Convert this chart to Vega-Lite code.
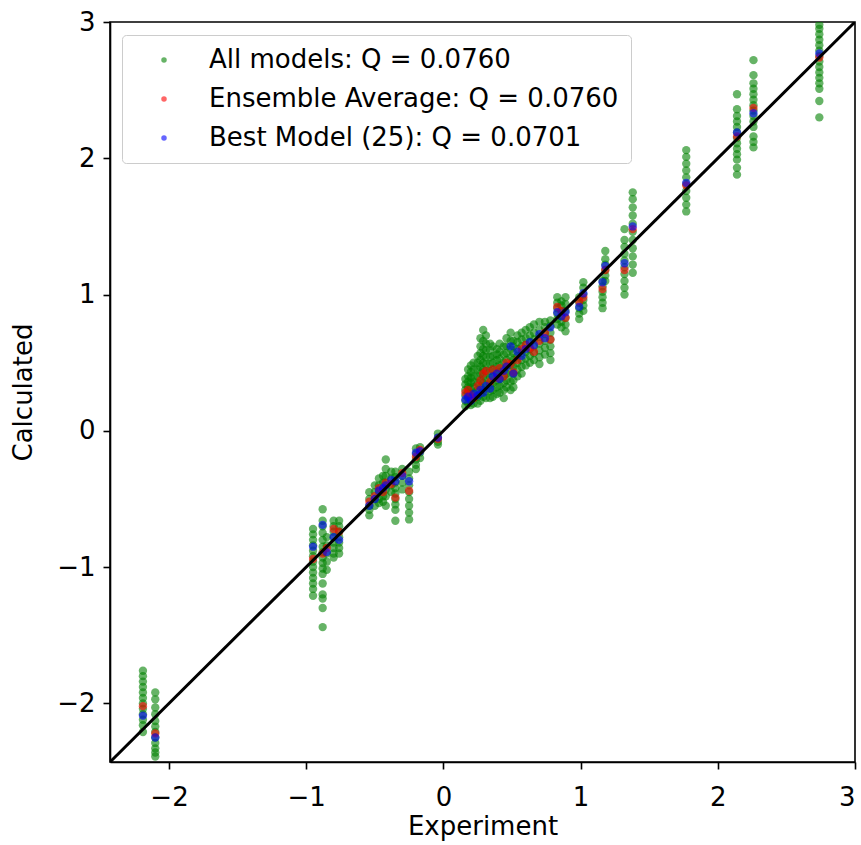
{
  "$schema": "https://vega.github.io/schema/vega-lite/v6.json",
  "width": 745,
  "height": 740,
  "autosize": {"type": "none"},
  "padding": {"left": 110, "top": 22, "right": 6, "bottom": 83},
  "background": "white",
  "datasets": {
    "all": [
      {"x":-2.19,"y":-1.76},{"x":-2.19,"y":-1.80},{"x":-2.19,"y":-1.84},{"x":-2.19,"y":-1.88},{"x":-2.19,"y":-1.92},{"x":-2.19,"y":-1.96},{"x":-2.19,"y":-2.00},{"x":-2.19,"y":-2.04},{"x":-2.19,"y":-2.08},{"x":-2.19,"y":-2.12},{"x":-2.19,"y":-2.16},{"x":-2.19,"y":-2.21},
      {"x":-2.10,"y":-1.92},{"x":-2.10,"y":-1.97},{"x":-2.10,"y":-2.03},{"x":-2.10,"y":-2.08},{"x":-2.10,"y":-2.13},{"x":-2.10,"y":-2.17},{"x":-2.10,"y":-2.21},{"x":-2.10,"y":-2.25},{"x":-2.10,"y":-2.29},{"x":-2.10,"y":-2.33},{"x":-2.10,"y":-2.36},{"x":-2.10,"y":-2.39},
      {"x":-0.95,"y":-0.72},{"x":-0.95,"y":-0.76},{"x":-0.95,"y":-0.80},{"x":-0.95,"y":-0.84},{"x":-0.95,"y":-0.88},{"x":-0.95,"y":-0.92},{"x":-0.95,"y":-0.96},{"x":-0.95,"y":-1.00},{"x":-0.95,"y":-1.04},{"x":-0.95,"y":-1.08},{"x":-0.95,"y":-1.12},{"x":-0.95,"y":-1.16},{"x":-0.95,"y":-1.21},
      {"x":-0.88,"y":-0.575},{"x":-0.88,"y":-0.66},{"x":-0.88,"y":-0.70},{"x":-0.88,"y":-0.75},{"x":-0.88,"y":-0.80},{"x":-0.88,"y":-0.85},{"x":-0.88,"y":-0.89},{"x":-0.88,"y":-0.93},{"x":-0.88,"y":-0.97},{"x":-0.88,"y":-1.01},{"x":-0.88,"y":-1.05},{"x":-0.88,"y":-1.12},{"x":-0.88,"y":-1.20},{"x":-0.88,"y":-1.23},{"x":-0.88,"y":-1.30},{"x":-0.88,"y":-1.44},
      {"x":-0.85,"y":-0.78},{"x":-0.85,"y":-0.84},{"x":-0.85,"y":-0.90},{"x":-0.85,"y":-0.96},{"x":-0.85,"y":-1.02},
      {"x":-0.80,"y":-0.66},{"x":-0.80,"y":-0.70},{"x":-0.80,"y":-0.74},{"x":-0.80,"y":-0.78},{"x":-0.80,"y":-0.82},{"x":-0.80,"y":-0.86},{"x":-0.80,"y":-0.90},{"x":-0.80,"y":-0.93},
      {"x":-0.76,"y":-0.66},{"x":-0.76,"y":-0.70},{"x":-0.76,"y":-0.74},{"x":-0.76,"y":-0.78},{"x":-0.76,"y":-0.82},{"x":-0.76,"y":-0.86},{"x":-0.76,"y":-0.90},
      {"x":-0.54,"y":-0.45},{"x":-0.54,"y":-0.50},{"x":-0.54,"y":-0.55},{"x":-0.54,"y":-0.58},{"x":-0.54,"y":-0.62},
      {"x":-0.50,"y":-0.40},{"x":-0.50,"y":-0.45},{"x":-0.50,"y":-0.50},{"x":-0.50,"y":-0.55},
      {"x":-0.47,"y":-0.35},{"x":-0.47,"y":-0.40},{"x":-0.47,"y":-0.45},{"x":-0.47,"y":-0.50},{"x":-0.47,"y":-0.53},
      {"x":-0.44,"y":-0.33},{"x":-0.44,"y":-0.38},{"x":-0.44,"y":-0.43},{"x":-0.44,"y":-0.48},{"x":-0.44,"y":-0.52},
      {"x":-0.42,"y":-0.21},{"x":-0.42,"y":-0.28},{"x":-0.42,"y":-0.33},{"x":-0.42,"y":-0.38},{"x":-0.42,"y":-0.43},{"x":-0.42,"y":-0.48},{"x":-0.42,"y":-0.55},
      {"x":-0.38,"y":-0.30},{"x":-0.38,"y":-0.35},{"x":-0.38,"y":-0.40},{"x":-0.38,"y":-0.45},
      {"x":-0.35,"y":-0.30},{"x":-0.35,"y":-0.34},{"x":-0.35,"y":-0.38},{"x":-0.35,"y":-0.42},{"x":-0.35,"y":-0.46},{"x":-0.35,"y":-0.50},{"x":-0.35,"y":-0.54},{"x":-0.35,"y":-0.58},{"x":-0.35,"y":-0.66},
      {"x":-0.30,"y":-0.28},{"x":-0.30,"y":-0.33},{"x":-0.30,"y":-0.38},{"x":-0.30,"y":-0.43},
      {"x":-0.25,"y":-0.30},{"x":-0.25,"y":-0.35},{"x":-0.25,"y":-0.40},{"x":-0.25,"y":-0.45},{"x":-0.25,"y":-0.50},{"x":-0.25,"y":-0.55},{"x":-0.25,"y":-0.60},{"x":-0.25,"y":-0.65},
      {"x":-0.20,"y":-0.13},{"x":-0.20,"y":-0.17},{"x":-0.20,"y":-0.21},{"x":-0.20,"y":-0.25},{"x":-0.20,"y":-0.28},
      {"x":-0.17,"y":-0.12},{"x":-0.17,"y":-0.16},{"x":-0.17,"y":-0.20},
      {"x":-0.04,"y":-0.02},{"x":-0.04,"y":-0.05},{"x":-0.04,"y":-0.08},{"x":-0.04,"y":-0.10},
      {"x":0.16,"y":0.18},{"x":0.16,"y":0.22},{"x":0.16,"y":0.26},{"x":0.16,"y":0.30},{"x":0.16,"y":0.34},{"x":0.16,"y":0.38},
      {"x":0.18,"y":0.20},{"x":0.18,"y":0.24},{"x":0.18,"y":0.28},{"x":0.18,"y":0.32},{"x":0.18,"y":0.36},{"x":0.18,"y":0.40},{"x":0.18,"y":0.45},
      {"x":0.20,"y":0.19},{"x":0.20,"y":0.23},{"x":0.20,"y":0.27},{"x":0.20,"y":0.31},{"x":0.20,"y":0.35},{"x":0.20,"y":0.39},{"x":0.20,"y":0.43},{"x":0.20,"y":0.48},
      {"x":0.22,"y":0.20},{"x":0.22,"y":0.24},{"x":0.22,"y":0.28},{"x":0.22,"y":0.32},{"x":0.22,"y":0.36},{"x":0.22,"y":0.40},{"x":0.22,"y":0.45},{"x":0.22,"y":0.50},
      {"x":0.25,"y":0.20},{"x":0.25,"y":0.25},{"x":0.25,"y":0.30},{"x":0.25,"y":0.35},{"x":0.25,"y":0.40},{"x":0.25,"y":0.45},{"x":0.25,"y":0.50},{"x":0.25,"y":0.55},
      {"x":0.27,"y":0.22},{"x":0.27,"y":0.27},{"x":0.27,"y":0.32},{"x":0.27,"y":0.37},{"x":0.27,"y":0.42},{"x":0.27,"y":0.47},{"x":0.27,"y":0.52},{"x":0.27,"y":0.57},{"x":0.27,"y":0.62},{"x":0.27,"y":0.68},
      {"x":0.29,"y":0.25},{"x":0.29,"y":0.30},{"x":0.29,"y":0.35},{"x":0.29,"y":0.40},{"x":0.29,"y":0.45},{"x":0.29,"y":0.50},{"x":0.29,"y":0.55},{"x":0.29,"y":0.60},{"x":0.29,"y":0.66},{"x":0.29,"y":0.74},
      {"x":0.31,"y":0.24},{"x":0.31,"y":0.29},{"x":0.31,"y":0.34},{"x":0.31,"y":0.39},{"x":0.31,"y":0.44},{"x":0.31,"y":0.49},{"x":0.31,"y":0.54},{"x":0.31,"y":0.59},{"x":0.31,"y":0.64},{"x":0.31,"y":0.70},
      {"x":0.34,"y":0.24},{"x":0.34,"y":0.29},{"x":0.34,"y":0.34},{"x":0.34,"y":0.39},{"x":0.34,"y":0.44},{"x":0.34,"y":0.49},{"x":0.34,"y":0.54},{"x":0.34,"y":0.59},{"x":0.34,"y":0.64},
      {"x":0.36,"y":0.25},{"x":0.36,"y":0.30},{"x":0.36,"y":0.35},{"x":0.36,"y":0.40},{"x":0.36,"y":0.45},{"x":0.36,"y":0.50},{"x":0.36,"y":0.55},{"x":0.36,"y":0.62},
      {"x":0.39,"y":0.27},{"x":0.39,"y":0.32},{"x":0.39,"y":0.37},{"x":0.39,"y":0.42},{"x":0.39,"y":0.47},{"x":0.39,"y":0.52},{"x":0.39,"y":0.56},{"x":0.39,"y":0.60},
      {"x":0.41,"y":0.28},{"x":0.41,"y":0.33},{"x":0.41,"y":0.38},{"x":0.41,"y":0.43},{"x":0.41,"y":0.48},{"x":0.41,"y":0.53},{"x":0.41,"y":0.58},{"x":0.41,"y":0.64},
      {"x":0.44,"y":0.24},{"x":0.44,"y":0.30},{"x":0.44,"y":0.35},{"x":0.44,"y":0.40},{"x":0.44,"y":0.45},{"x":0.44,"y":0.50},{"x":0.44,"y":0.56},{"x":0.44,"y":0.62},
      {"x":0.46,"y":0.32},{"x":0.46,"y":0.37},{"x":0.46,"y":0.42},{"x":0.46,"y":0.47},{"x":0.46,"y":0.52},{"x":0.46,"y":0.57},{"x":0.46,"y":0.62},{"x":0.46,"y":0.68},
      {"x":0.49,"y":0.30},{"x":0.49,"y":0.36},{"x":0.49,"y":0.42},{"x":0.49,"y":0.48},{"x":0.49,"y":0.54},{"x":0.49,"y":0.60},{"x":0.49,"y":0.66},{"x":0.49,"y":0.72},
      {"x":0.51,"y":0.32},{"x":0.51,"y":0.37},{"x":0.51,"y":0.42},{"x":0.51,"y":0.47},{"x":0.51,"y":0.52},{"x":0.51,"y":0.57},{"x":0.51,"y":0.62},{"x":0.51,"y":0.66},
      {"x":0.54,"y":0.40},{"x":0.54,"y":0.45},{"x":0.54,"y":0.50},{"x":0.54,"y":0.55},{"x":0.54,"y":0.60},{"x":0.54,"y":0.65},{"x":0.54,"y":0.70},
      {"x":0.57,"y":0.42},{"x":0.57,"y":0.47},{"x":0.57,"y":0.52},{"x":0.57,"y":0.57},{"x":0.57,"y":0.62},{"x":0.57,"y":0.67},{"x":0.57,"y":0.72},
      {"x":0.60,"y":0.48},{"x":0.60,"y":0.53},{"x":0.60,"y":0.58},{"x":0.60,"y":0.63},{"x":0.60,"y":0.68},{"x":0.60,"y":0.74},
      {"x":0.63,"y":0.50},{"x":0.63,"y":0.55},{"x":0.63,"y":0.60},{"x":0.63,"y":0.65},{"x":0.63,"y":0.70},{"x":0.63,"y":0.76},
      {"x":0.66,"y":0.52},{"x":0.66,"y":0.57},{"x":0.66,"y":0.62},{"x":0.66,"y":0.67},{"x":0.66,"y":0.72},{"x":0.66,"y":0.78},
      {"x":0.70,"y":0.49},{"x":0.70,"y":0.54},{"x":0.70,"y":0.59},{"x":0.70,"y":0.64},{"x":0.70,"y":0.69},{"x":0.70,"y":0.74},{"x":0.70,"y":0.80},
      {"x":0.74,"y":0.56},{"x":0.74,"y":0.61},{"x":0.74,"y":0.66},{"x":0.74,"y":0.71},{"x":0.74,"y":0.76},{"x":0.74,"y":0.80},
      {"x":0.78,"y":0.52},{"x":0.78,"y":0.57},{"x":0.78,"y":0.62},{"x":0.78,"y":0.67},{"x":0.78,"y":0.72},{"x":0.78,"y":0.77},{"x":0.78,"y":0.81},
      {"x":0.83,"y":0.78},{"x":0.83,"y":0.82},{"x":0.83,"y":0.86},{"x":0.83,"y":0.90},{"x":0.83,"y":0.94},{"x":0.83,"y":0.98},
      {"x":0.86,"y":0.76},{"x":0.86,"y":0.80},{"x":0.86,"y":0.84},{"x":0.86,"y":0.88},{"x":0.86,"y":0.92},{"x":0.86,"y":0.95},
      {"x":0.89,"y":0.73},{"x":0.89,"y":0.78},{"x":0.89,"y":0.83},{"x":0.89,"y":0.88},{"x":0.89,"y":0.93},{"x":0.89,"y":0.98},
      {"x":0.99,"y":0.82},{"x":0.99,"y":0.86},{"x":0.99,"y":0.90},{"x":0.99,"y":0.94},{"x":0.99,"y":0.98},
      {"x":1.02,"y":0.88},{"x":1.02,"y":0.92},{"x":1.02,"y":0.96},{"x":1.02,"y":1.00},{"x":1.02,"y":1.05},{"x":1.02,"y":1.09},
      {"x":1.16,"y":0.90},{"x":1.16,"y":0.94},{"x":1.16,"y":0.98},{"x":1.16,"y":1.02},{"x":1.16,"y":1.06},{"x":1.16,"y":1.10},
      {"x":1.18,"y":1.10},{"x":1.18,"y":1.14},{"x":1.18,"y":1.18},{"x":1.18,"y":1.22},{"x":1.18,"y":1.26},{"x":1.18,"y":1.32},
      {"x":1.32,"y":1.00},{"x":1.32,"y":1.05},{"x":1.32,"y":1.10},{"x":1.32,"y":1.15},{"x":1.32,"y":1.20},{"x":1.32,"y":1.25},{"x":1.32,"y":1.30},{"x":1.32,"y":1.35},{"x":1.32,"y":1.40},{"x":1.32,"y":1.48},
      {"x":1.38,"y":1.16},{"x":1.38,"y":1.22},{"x":1.38,"y":1.28},{"x":1.38,"y":1.34},{"x":1.38,"y":1.40},{"x":1.38,"y":1.46},{"x":1.38,"y":1.52},{"x":1.38,"y":1.58},{"x":1.38,"y":1.64},{"x":1.38,"y":1.70},{"x":1.38,"y":1.75},
      {"x":1.77,"y":1.61},{"x":1.77,"y":1.66},{"x":1.77,"y":1.71},{"x":1.77,"y":1.76},{"x":1.77,"y":1.81},{"x":1.77,"y":1.86},{"x":1.77,"y":1.91},{"x":1.77,"y":1.96},{"x":1.77,"y":2.01},{"x":1.77,"y":2.06},
      {"x":2.14,"y":1.88},{"x":2.14,"y":1.93},{"x":2.14,"y":1.99},{"x":2.14,"y":2.03},{"x":2.14,"y":2.07},{"x":2.14,"y":2.11},{"x":2.14,"y":2.15},{"x":2.14,"y":2.19},{"x":2.14,"y":2.23},{"x":2.14,"y":2.27},{"x":2.14,"y":2.31},{"x":2.14,"y":2.36},{"x":2.14,"y":2.47},
      {"x":2.26,"y":2.08},{"x":2.26,"y":2.12},{"x":2.26,"y":2.16},{"x":2.26,"y":2.23},{"x":2.26,"y":2.27},{"x":2.26,"y":2.31},{"x":2.26,"y":2.35},{"x":2.26,"y":2.39},{"x":2.26,"y":2.43},{"x":2.26,"y":2.47},{"x":2.26,"y":2.51},{"x":2.26,"y":2.55},{"x":2.26,"y":2.61},{"x":2.26,"y":2.72},
      {"x":2.74,"y":2.30},{"x":2.74,"y":2.42},{"x":2.74,"y":2.51},{"x":2.74,"y":2.55},{"x":2.74,"y":2.59},{"x":2.74,"y":2.63},{"x":2.74,"y":2.67},{"x":2.74,"y":2.71},{"x":2.74,"y":2.75},{"x":2.74,"y":2.79},{"x":2.74,"y":2.83},{"x":2.74,"y":2.87},{"x":2.74,"y":2.91},{"x":2.74,"y":2.95},{"x":2.74,"y":2.98}
    ],
    "avg": [
      {"x":-2.19,"y":-2.02},{"x":-2.10,"y":-2.22},{"x":-0.95,"y":-0.94},{"x":-0.88,"y":-0.90},{"x":-0.85,"y":-0.86},{"x":-0.80,"y":-0.72},{"x":-0.76,"y":-0.74},
      {"x":-0.54,"y":-0.52},{"x":-0.50,"y":-0.48},{"x":-0.47,"y":-0.42},{"x":-0.44,"y":-0.45},{"x":-0.42,"y":-0.38},{"x":-0.38,"y":-0.39},{"x":-0.35,"y":-0.49},{"x":-0.30,"y":-0.31},{"x":-0.25,"y":-0.44},{"x":-0.20,"y":-0.19},{"x":-0.17,"y":-0.14},{"x":-0.04,"y":-0.06},
      {"x":0.16,"y":0.28},{"x":0.18,"y":0.30},{"x":0.20,"y":0.26},{"x":0.22,"y":0.24},{"x":0.25,"y":0.33},{"x":0.27,"y":0.37},{"x":0.29,"y":0.42},{"x":0.31,"y":0.44},{"x":0.34,"y":0.36},{"x":0.36,"y":0.45},{"x":0.39,"y":0.39},{"x":0.41,"y":0.46},{"x":0.44,"y":0.40},{"x":0.46,"y":0.50},{"x":0.49,"y":0.49},{"x":0.51,"y":0.43},{"x":0.54,"y":0.52},{"x":0.57,"y":0.60},{"x":0.60,"y":0.63},{"x":0.63,"y":0.61},{"x":0.66,"y":0.58},{"x":0.70,"y":0.66},{"x":0.74,"y":0.72},{"x":0.78,"y":0.67},
      {"x":0.83,"y":0.91},{"x":0.86,"y":0.88},{"x":0.89,"y":0.83},{"x":0.99,"y":0.95},{"x":1.02,"y":0.98},{"x":1.16,"y":1.04},{"x":1.18,"y":1.18},{"x":1.32,"y":1.18},{"x":1.38,"y":1.48},{"x":1.77,"y":1.80},{"x":2.14,"y":2.16},{"x":2.26,"y":2.37},{"x":2.74,"y":2.74}
    ],
    "best": [
      {"x":-2.19,"y":-2.09},{"x":-2.10,"y":-2.25},{"x":-0.95,"y":-0.85},{"x":-0.88,"y":-0.69},{"x":-0.85,"y":-0.89},{"x":-0.80,"y":-0.78},{"x":-0.76,"y":-0.80},
      {"x":-0.54,"y":-0.55},{"x":-0.50,"y":-0.50},{"x":-0.47,"y":-0.44},{"x":-0.44,"y":-0.42},{"x":-0.42,"y":-0.40},{"x":-0.38,"y":-0.36},{"x":-0.35,"y":-0.37},{"x":-0.30,"y":-0.33},{"x":-0.25,"y":-0.37},{"x":-0.20,"y":-0.16},{"x":-0.17,"y":-0.15},{"x":-0.04,"y":-0.05},
      {"x":0.16,"y":0.23},{"x":0.18,"y":0.25},{"x":0.20,"y":0.22},{"x":0.22,"y":0.27},{"x":0.25,"y":0.26},{"x":0.27,"y":0.30},{"x":0.29,"y":0.28},{"x":0.31,"y":0.33},{"x":0.34,"y":0.31},{"x":0.36,"y":0.40},{"x":0.39,"y":0.42},{"x":0.41,"y":0.38},{"x":0.44,"y":0.44},{"x":0.46,"y":0.47},{"x":0.49,"y":0.62},{"x":0.51,"y":0.42},{"x":0.54,"y":0.58},{"x":0.57,"y":0.55},{"x":0.60,"y":0.60},{"x":0.63,"y":0.65},{"x":0.66,"y":0.63},{"x":0.70,"y":0.71},{"x":0.74,"y":0.68},{"x":0.78,"y":0.76},
      {"x":0.83,"y":0.87},{"x":0.86,"y":0.84},{"x":0.89,"y":0.87},{"x":0.99,"y":0.91},{"x":1.02,"y":1.01},{"x":1.16,"y":1.09},{"x":1.18,"y":1.21},{"x":1.32,"y":1.23},{"x":1.38,"y":1.50},{"x":1.77,"y":1.82},{"x":2.14,"y":2.19},{"x":2.26,"y":2.33},{"x":2.74,"y":2.77}
    ],
    "diagonal": [{"x0": -2.43, "x1": 3}]
  },
  "layer": [
    {
      "data": {"name": "all"},
      "mark": {"type": "circle", "size": 70, "opacity": 0.6, "clip": true},
      "encoding": {
        "x": {"field": "x", "type": "quantitative", "title": "Experiment",
              "scale": {"domain": [-2.43, 3], "nice": false, "zero": false},
              "axis": {"values": [-2, -1, 0, 1, 2, 3], "format": "d"}},
        "y": {"field": "y", "type": "quantitative", "title": "Calculated",
              "scale": {"domain": [-2.43, 3], "nice": false, "zero": false},
              "axis": {"values": [-2, -1, 0, 1, 2, 3], "format": "d"}},
        "color": {
          "datum": "All models: Q = 0.0760",
          "type": "nominal",
          "scale": {
            "domain": ["All models: Q = 0.0760", "Ensemble Average: Q = 0.0760", "Best Model (25): Q = 0.0701"],
            "range": ["#008000", "#ff0000", "#0000ff"]
          },
          "legend": {
            "title": null,
            "orient": "none",
            "legendX": 12,
            "legendY": 13,
            "padding": 12,
            "rowPadding": 13,
            "symbolType": "circle",
            "symbolSize": 30,
            "symbolOpacity": 0.6,
            "symbolStrokeWidth": 0,
            "symbolOffset": 17,
            "labelOffset": 32,
            "labelFont": "DejaVu Sans",
            "labelFontSize": 26,
            "labelColor": "#000000",
            "labelLimit": 700,
            "strokeColor": "#cccccc",
            "fillColor": "rgba(255,255,255,0.8)",
            "cornerRadius": 4
          }
        }
      }
    },
    {
      "data": {"name": "avg"},
      "mark": {"type": "circle", "size": 70, "opacity": 0.6, "clip": true},
      "encoding": {
        "x": {"field": "x", "type": "quantitative"},
        "y": {"field": "y", "type": "quantitative"},
        "color": {"datum": "Ensemble Average: Q = 0.0760", "type": "nominal"}
      }
    },
    {
      "data": {"name": "best"},
      "mark": {"type": "circle", "size": 70, "opacity": 0.6, "clip": true},
      "encoding": {
        "x": {"field": "x", "type": "quantitative"},
        "y": {"field": "y", "type": "quantitative"},
        "color": {"datum": "Best Model (25): Q = 0.0701", "type": "nominal"}
      }
    },
    {
      "data": {"name": "diagonal"},
      "mark": {"type": "rule", "color": "black", "strokeWidth": 3, "clip": true},
      "encoding": {
        "x": {"field": "x0", "type": "quantitative"},
        "y": {"field": "x0", "type": "quantitative"},
        "x2": {"field": "x1"},
        "y2": {"field": "x1"}
      }
    }
  ],
  "config": {
    "font": "DejaVu Sans",
    "view": {"stroke": "#000000", "strokeWidth": 1.6},
    "axis": {
      "grid": false,
      "domainColor": "#000000",
      "domainWidth": 1.6,
      "tickColor": "#000000",
      "tickWidth": 1.6,
      "tickSize": 7,
      "labelFont": "DejaVu Sans",
      "labelFontSize": 26,
      "labelColor": "#000000",
      "titleFont": "DejaVu Sans",
      "titleFontSize": 26,
      "titleFontWeight": "normal",
      "titleColor": "#000000"
    },
    "axisX": {"titlePadding": 3, "labelPadding": 15},
    "axisY": {"titlePadding": 20, "labelPadding": 8}
  }
}
